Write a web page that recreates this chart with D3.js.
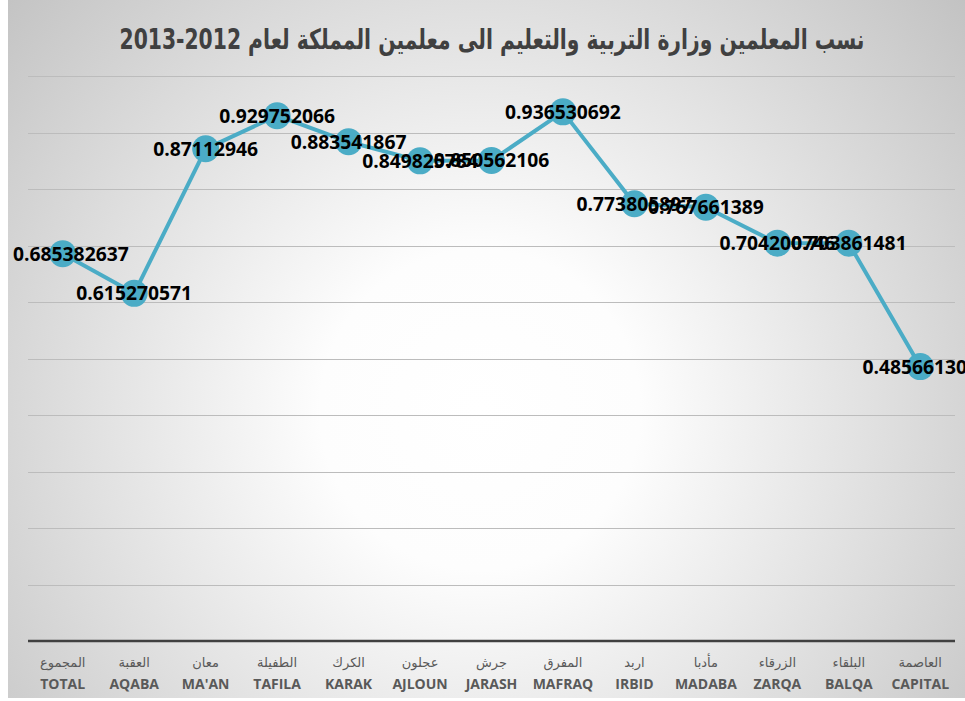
<!doctype html>
<html lang="ar">
<head>
  <meta charset="utf-8">
  <script src="https://d3js.org/d3.v7.min.js"></script>
  <title>نسب المعلمين</title>
  <style>
    html, body { margin: 0; padding: 0; background: #fff; }
    svg { display: block; }
  </style>
</head>
<body>
<script>
  // chart data
  var regionsEn = ["TOTAL", "AQABA", "MA'AN", "TAFILA", "KARAK", "AJLOUN", "JARASH", "MAFRAQ", "IRBID", "MADABA", "ZARQA", "BALQA", "CAPITAL"];
  var regionsAr = ["المجموع", "العقبة", "معان", "الطفيلة", "الكرك", "عجلون", "جرش", "المفرق", "اربد", "مأدبا", "الزرقاء", "البلقاء", "العاصمة"];
  var ratios = [0.685382637, 0.615270571, 0.87112946, 0.929752066, 0.883541867, 0.849825784, 0.850562106, 0.936530692, 0.773805897, 0.767661389, 0.704200746, 0.703861481, 0.485661304];
  var yTicks = [0, 0.1, 0.2, 0.3, 0.4, 0.5, 0.6, 0.7, 0.8, 0.9, 1];
  // logical order; the renderer shows the year range as 2013-2012
  var title = "نسب المعلمين وزارة التربية والتعليم الى معلمين المملكة لعام 2012-2013";

  var W = 965, H = 701;
  var plot = { left: 27, right: 956, top: 76, bottom: 641 };

  var svg = d3.select("body").append("svg")
    .attr("width", W)
    .attr("height", H);

  // background gradient like the office chart style
  var defs = svg.append("defs");
  var grad = defs.append("radialGradient")
    .attr("id", "bg")
    .attr("gradientUnits", "userSpaceOnUse")
    .attr("cx", 480).attr("cy", 410).attr("r", 640);
  grad.append("stop").attr("offset", "0%").attr("stop-color", "#ffffff");
  grad.append("stop").attr("offset", "25%").attr("stop-color", "#fdfdfd");
  grad.append("stop").attr("offset", "100%").attr("stop-color", "#c2c2c2");

  svg.append("rect")
    .attr("x", 8).attr("y", 0)
    .attr("width", W - 8).attr("height", 698)
    .attr("fill", "url(#bg)");

  var x = d3.scaleBand()
    .domain(regionsEn)
    .range([plot.left, plot.right]);

  var y = d3.scaleLinear()
    .domain([0, 1])
    .range([plot.bottom, plot.top]);

  function cx(i) { return x(regionsEn[i]) + x.bandwidth() / 2; }

  // gridlines
  svg.append("g")
    .selectAll("line")
    .data(yTicks.slice(1))
    .enter()
    .append("line")
    .attr("x1", plot.left + 1)
    .attr("x2", plot.right - 1)
    .attr("y1", function(d) { return Math.round(y(d)) + 0.5; })
    .attr("y2", function(d) { return Math.round(y(d)) + 0.5; })
    .attr("stroke", "#bcbcbc")
    .attr("stroke-width", 1);

  // x axis line
  svg.append("line")
    .attr("x1", plot.left + 1).attr("x2", plot.right - 1)
    .attr("y1", y(0)).attr("y2", y(0))
    .attr("stroke", "#404040")
    .attr("stroke-width", 2.5);

  // category labels (arabic + english)
  var cats = svg.append("g");
  cats.selectAll("text.ar")
    .data(regionsEn)
    .enter()
    .append("text")
    .attr("class", "ar")
    .attr("x", function(d, i) { return cx(i); })
    .attr("y", 667)
    .attr("text-anchor", "middle")
    .attr("direction", "rtl")
    .style("font-family", "'DejaVu Sans', sans-serif")
    .style("font-size", "13px")
    .style("fill", "#595959")
    .text(function(d, i) { return regionsAr[i]; });

  cats.selectAll("text.en")
    .data(regionsEn)
    .enter()
    .append("text")
    .attr("class", "en")
    .attr("x", function(d, i) { return cx(i); })
    .attr("y", 689)
    .attr("text-anchor", "middle")
    .style("font-family", "'Open Sans', sans-serif")
    .style("font-weight", "bold")
    .style("font-size", "14px")
    .style("fill", "#595959")
    .text(function(d) { return d; });

  // the line
  var line = d3.line()
    .x(function(d, i) { return cx(i); })
    .y(function(d) { return y(d); });

  svg.append("path")
    .datum(ratios)
    .attr("d", line)
    .attr("fill", "none")
    .attr("stroke", "#4bacc6")
    .attr("stroke-width", 4)
    .attr("stroke-linejoin", "round");

  // markers
  svg.append("g")
    .selectAll("circle")
    .data(ratios)
    .enter()
    .append("circle")
    .attr("cx", function(d, i) { return cx(i); })
    .attr("cy", function(d) { return y(d); })
    .attr("r", 13.5)
    .attr("fill", "#4bacc6");

  // data labels, centered on the markers (pushed inside the left edge like excel does)
  var labels = svg.append("g")
    .selectAll("text")
    .data(ratios)
    .enter()
    .append("text")
    .attr("x", function(d, i) { return cx(i); })
    .attr("y", function(d) { return y(d); })
    .attr("dy", "0.36em")
    .attr("text-anchor", "middle")
    .style("font-family", "'Open Sans', sans-serif")
    .style("font-weight", "bold")
    .style("font-size", "19.3px")
    .style("fill", "#000")
    .text(function(d) { return String(d); });

  labels.each(function(d, i) {
    var w = this.getComputedTextLength();
    if (cx(i) - w / 2 < 13) d3.select(this).attr("x", 13 + w / 2);
  });

  // title
  svg.append("text")
    .attr("x", 492)
    .attr("y", 49)
    .attr("text-anchor", "middle")
    .attr("direction", "rtl")
    .attr("textLength", 745)
    .attr("lengthAdjust", "spacingAndGlyphs")
    .style("font-family", "'DejaVu Sans', sans-serif")
    .style("font-weight", "bold")
    .style("font-size", "28px")
    .style("fill", "#404040")
    .text(title);
</script>
</body>
</html>
